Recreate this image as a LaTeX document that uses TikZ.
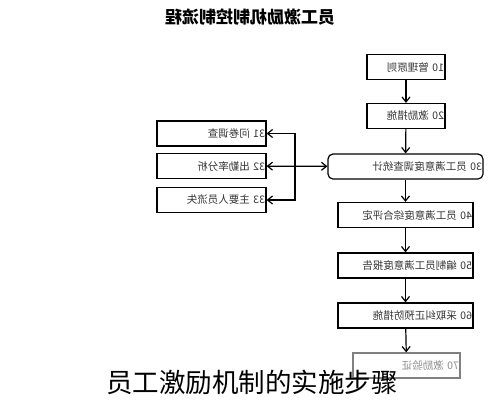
\documentclass[tikz,border=0pt]{standalone}
\usepackage{fontspec}
\usepackage{tikz}
\usetikzlibrary{arrows.meta}
\newfontfamily\cjk{Noto Sans CJK SC}
\tikzset{basic/.style={draw,fill=none,line width=1.2pt,inner xsep=1pt,
                       inner ysep=0pt,align=right,minimum height=25pt,
                       font=\cjk\fontsize{10.5}{12}\selectfont,text=black!80}}
\tikzset{step box/.style={basic,rectangle}}
\tikzset{stat box/.style={basic,rounded corners=5pt}}
\tikzset{faded box/.style={basic,draw=black!50,text=black!45}}
\tikzset{link/.style={line width=1.2pt}}
\begin{document}
\begin{tikzpicture}[x=1pt,y=-1pt,>={Straight Barb[length=5pt,width=8pt]}]
    \useasboundingbox (0,0) rectangle (500,400);
    % Title (mirrored as in the picture)
    \node (title) at (250,17)
        {\reflectbox{\cjk\bfseries\fontsize{17}{20}\selectfont 员工激励机制控制流程}};
    % Draw main column
    \foreach \n/\x/\y/\w/\t in {m10/406/67/76/{10 管理原则},
                                m20/406/116/76/{20 激励措施},
                                m40/405.5/215/133/{40 员工满意度综合评定},
                                m50/405.5/265.5/133/{50 编制员工满意度报告},
                                m60/405.5/315.5/133/{60 采取纠正预防措施}}{%
          \node[step box,text width=\w pt] (\n) at (\x,\y) {\reflectbox{\t}};
        }
    \node[stat box,text width=153pt] (m30) at (405.5,166.5)
        {\reflectbox{30 员工满意度调查统计}};
    \node[faded box,text width=105pt] (m70) at (406.5,365.5)
        {\reflectbox{70 激励验证}};
    % Draw side boxes
    \foreach \n/\y/\t in {s31/133.5/{31 问卷调查},
                          s32/166/{32 出勤率分析},
                          s33/200/{33 主要人员流失}}{%
          \node[step box,text width=107pt] (\n) at (211.5,\y) {\reflectbox{\t}};
        }
    % Connect main column
    \draw[link,->] (m10) -- (m20);
    \draw[link,->] (m20) -- (m30);
    \draw[link,->] (m30) -- (m40);
    \draw[link,->] (m40) -- (m50);
    \draw[link,->] (m50) -- (m60);
    \draw[link,->] (m60) -- (m70);
    % Connect side boxes
    \coordinate (bus) at (295,166);
    \draw[link,<->] (m30) -- (s32);
    \draw[link,->] (bus) |- (s31);
    \draw[link,->] (bus) |- (s33);
    % Caption
    \node (caption) at (252,382)
        {\cjk\fontsize{26.5}{30}\selectfont 员工激励机制的实施步骤};
\end{tikzpicture}
\end{document}
